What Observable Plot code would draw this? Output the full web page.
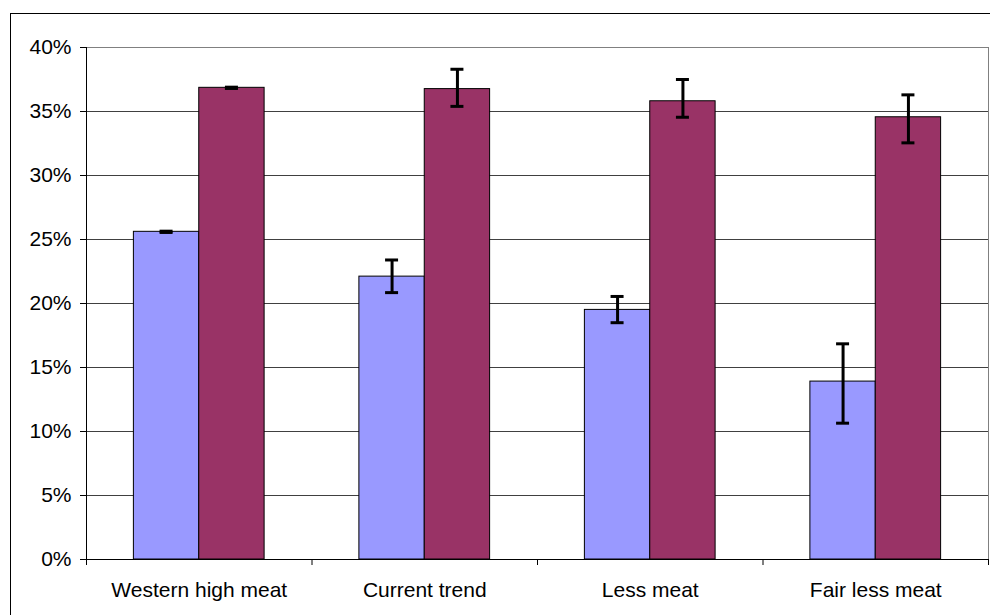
<!DOCTYPE html>
<html><head><meta charset="utf-8">
<script src="https://cdn.jsdelivr.net/npm/d3@7"></script>
<script src="https://cdn.jsdelivr.net/npm/@observablehq/plot@0.6"></script>
<style>
html,body{margin:0;padding:0;background:#fff;overflow:hidden;}
#wrap{position:relative;width:990px;height:615px;overflow:hidden;}
#border{position:absolute;left:10px;top:13px;width:1100px;height:800px;border:1px solid #000;box-sizing:border-box;}
#chart{position:absolute;left:0;top:0;}
</style></head><body>
<div id="wrap"><div id="border"></div><div id="chart"></div></div>
<script>
const categories = ["Western high meat", "Current trend", "Less meat", "Fair less meat"];
const seriesNames = ["Series 1", "Series 2"];
const seriesColors = ["#9999FF", "#993366"];
const series1Values = [25.6, 22.1, 19.5, 13.9];
const series1Low    = [25.55, 20.85, 18.5, 10.65];
const series1High   = [25.65, 23.4, 20.55, 16.85];
const series2Values = [36.85, 36.75, 35.8, 34.55];
const series2Low    = [36.8, 35.4, 34.55, 32.55];
const series2High   = [36.9, 38.3, 37.5, 36.3];
const yTicks = [0, 5, 10, 15, 20, 25, 30, 35, 40];

const gapWidth = 1.45;           // Excel-style gap width (145%)
const barW = 1 / (2 + gapWidth); // bar width in category units

const rows = [];
categories.forEach((c, i) => {
  rows.push({i, k: 0, series: seriesNames[0], value: series1Values[i], lo: series1Low[i], hi: series1High[i]});
  rows.push({i, k: 1, series: seriesNames[1], value: series2Values[i], lo: series2Low[i], hi: series2High[i]});
});
const left = d => d.i + 0.5 + (d.k - 1) * barW;
const right = d => d.i + 0.5 + d.k * barW;
const center = d => d.i + 0.5 + (d.k - 0.5) * barW;

const font = "'Liberation Sans', Arial, sans-serif";
const chart = Plot.plot({
  width: 990,
  height: 615,
  marginLeft: 86,
  marginRight: 2,
  marginTop: 47,
  marginBottom: 56,
  style: {fontFamily: font, fontSize: "21px", color: "#000", background: "transparent", overflow: "visible"},
  x: {type: "linear", domain: [0, categories.length]},
  y: {domain: [0, 40]},
  color: {domain: seriesNames, range: seriesColors},
  marks: [
    Plot.gridY(yTicks.slice(1, -1), {stroke: "#404040", strokeOpacity: 1}),
    Plot.frame({stroke: "#808080"}),
    Plot.rectY(rows, {x1: left, x2: right, y: "value", fill: "series", stroke: "#000", strokeWidth: 1}),
    Plot.ruleX(rows, {x: center, y1: "lo", y2: "hi", stroke: "#000", strokeWidth: 3}),
    Plot.ruleY(rows, {x1: center, x2: center, y: "lo", insetLeft: -6.5, insetRight: -6.5, stroke: "#000", strokeWidth: 3}),
    Plot.ruleY(rows, {x1: center, x2: center, y: "hi", insetLeft: -6.5, insetRight: -6.5, stroke: "#000", strokeWidth: 3}),
    Plot.axisY({ticks: yTicks, tickFormat: d => d + "%", tickSize: 6, tickPadding: 9, fontSize: 21, label: null, stroke: "#000", strokeOpacity: 1}),
    Plot.axisX({ticks: d3.range(categories.length + 1), tickFormat: () => "", tickSize: 6, label: null, stroke: "#000", strokeOpacity: 1}),
    Plot.axisX({ticks: categories.map((_, i) => i + 0.5), tickFormat: v => categories[Math.floor(v)], tickSize: 0, tickPadding: 23, fontSize: 21, label: null}),
    Plot.ruleX([0], {stroke: "#000"}),
    Plot.ruleY([0], {stroke: "#000"})
  ]
});
document.getElementById("chart").appendChild(chart);
</script>
</body></html>
